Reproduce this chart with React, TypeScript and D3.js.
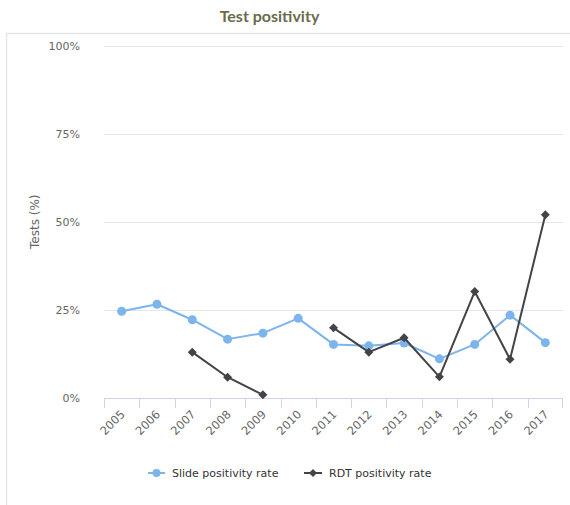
import React from 'react';
import * as d3 from 'd3';

// values (percent of tests)
const years = ['2005', '2006', '2007', '2008', '2009', '2010', '2011', '2012', '2013', '2014', '2015', '2016', '2017'];
const slideRate: (number | null)[] = [24.6, 26.6, 22.2, 16.7, 18.4, 22.6, 15.2, 14.8, 15.6, 11.1, 15.2, 23.5, 15.7];
const rdtRate: (number | null)[] = [null, null, 13.0, 5.9, 0.9, null, 19.9, 13.0, 17.1, 6.0, 30.2, 11.0, 52.0];
const yTicks = [0, 25, 50, 75, 100];
const seriesNames = ['Slide positivity rate', 'RDT positivity rate'];

const W = 570;
const H = 505;
const margin = { top: 45.5, right: 7, bottom: 107, left: 104 };

const blue = '#7cb5ec';
const dark = '#434348';
const font = '"DejaVu Sans", Verdana, sans-serif';

const App: React.FC = () => {
  const x = d3
    .scaleBand<string>()
    .domain(years)
    .range([margin.left, W - margin.right]);
  const y = d3
    .scaleLinear()
    .domain([0, 100])
    .range([H - margin.bottom, margin.top]);
  const bw = x.bandwidth();
  const cx = (i: number) => (x(years[i]) as number) + bw / 2;

  const line = d3
    .line<number | null>()
    .defined((d) => d != null)
    .x((_, i) => cx(i))
    .y((d) => y(d as number));

  const diamond = d3.symbol().type(d3.symbolSquare).size(40)();
  const legendDiamond = d3.symbol().type(d3.symbolSquare).size(32)();

  const x0 = margin.left;
  const x1 = W - margin.right;
  const yBase = y(0);

  return (
    <svg
      width={W}
      height={H}
      style={{ position: 'absolute', left: 0, top: 0, background: '#fff' }}
      fontFamily={font}
    >
      {/* outer container border */}
      <rect x={6.5} y={33.5} width={W + 10} height={H + 10} fill="none" stroke="#e6e6e6" strokeWidth={1.5} />

      <text x={269.5} y={22} textAnchor="middle" fontFamily='Lato, "DejaVu Sans", sans-serif' fontWeight="bold" fontSize={16} fill="#6b6b4c">
        Test positivity
      </text>

      {/* grid + y labels */}
      {yTicks.map((t) => (
        <g key={t}>
          <line x1={x0} x2={x1} y1={Math.round(y(t)) + 0.5} y2={Math.round(y(t)) + 0.5} stroke="#e6e6e6" />
          <text x={80} y={y(t) + 4} textAnchor="end" fontSize={11} fill="#666">
            {t}%
          </text>
        </g>
      ))}

      <text
        transform={`translate(${35 + 4},${(y(0) + y(100)) / 2}) rotate(-90)`}
        textAnchor="middle"
        fontSize={12}
        fill="#666"
      >
        Tests (%)
      </text>

      {/* x axis */}
      <line x1={x0} x2={x1} y1={yBase + 0.5} y2={yBase + 0.5} stroke="#ccd6eb" />
      {years.map((yr) => (
        <line
          key={'t' + yr}
          x1={Math.round(x(yr) as number) + 0.5}
          x2={Math.round(x(yr) as number) + 0.5}
          y1={yBase}
          y2={yBase + 10}
          stroke="#ccd6eb"
        />
      ))}
      <line x1={x1 - 0.5} x2={x1 - 0.5} y1={yBase} y2={yBase + 10} stroke="#ccd6eb" />
      {years.map((yr, i) => (
        <text
          key={'l' + yr}
          transform={`translate(${cx(i) + 4},${yBase + 17}) rotate(-45)`}
          textAnchor="end"
          fontSize={11.5}
          fill="#666"
        >
          {yr}
        </text>
      ))}

      {/* slide series */}
      <path d={line(slideRate) || ''} fill="none" stroke={blue} strokeWidth={2} strokeLinejoin="round" />
      {slideRate.map((v, i) =>
        v == null ? null : <circle key={'s' + i} cx={cx(i)} cy={y(v)} r={4.5} fill={blue} />
      )}

      {/* RDT series */}
      <path d={line(rdtRate) || ''} fill="none" stroke={dark} strokeWidth={2} strokeLinejoin="round" />
      {rdtRate.map((v, i) =>
        v == null ? null : (
          <path key={'r' + i} d={diamond || ''} transform={`translate(${cx(i)},${y(v)}) rotate(45)`} fill={dark} />
        )
      )}

      {/* legend */}
      <g fontSize={11} fill="#333">
        <line x1={148} x2={165} y1={473} y2={473} stroke={blue} strokeWidth={2} />
        <circle cx={156.5} cy={473} r={4} fill={blue} />
        <text x={172} y={477}>{seriesNames[0]}</text>
        <line x1={304} x2={322} y1={473} y2={473} stroke={dark} strokeWidth={2} />
        <path d={legendDiamond || ''} transform={`translate(313,473) rotate(45)`} fill={dark} />
        <text x={329} y={477}>{seriesNames[1]}</text>
      </g>
    </svg>
  );
};

export default App;
